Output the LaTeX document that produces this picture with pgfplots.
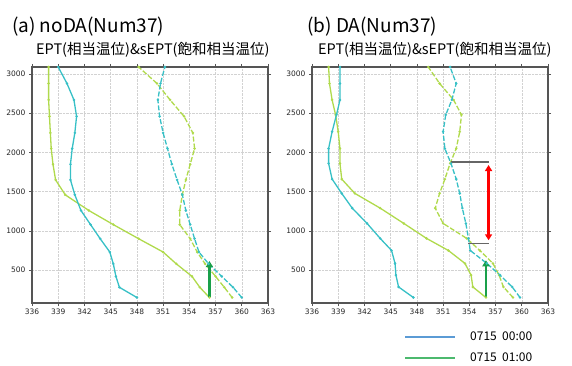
\documentclass[border=0pt]{standalone}
\usepackage{fontspec}
\usepackage{pgfplots}
\usepackage{pgfplotstable}
\pgfplotsset{compat=1.18}
\usetikzlibrary{arrows.meta}
\setmainfont{DejaVu Sans}
\newfontfamily\cjk{Noto Sans CJK JP}
\definecolor{cy}{RGB}{55,192,198}
\definecolor{yg}{RGB}{176,218,76}
\definecolor{dg}{RGB}{26,160,74}
\definecolor{frame}{RGB}{85,85,85}
\definecolor{legblue}{RGB}{91,155,213}
\definecolor{leggreen}{RGB}{76,185,110}

% columns: h, EPT 00:00, EPT 01:00, sEPT 00:00, sEPT 01:00
\pgfplotstableread{
h    ea     eb     sa     sb
150  348.0  356.3  360.0  358.9
280  346.0  355.2  359.0  358.0
420  345.6  354.3  357.7  357.0
580  345.3  352.5  356.2  355.8
730  344.9  351.0  355.1  354.9
900  343.8  348.2  354.6  354.1
1080 342.7  345.3  354.1  352.9
1260 341.6  342.5  353.6  352.9
1460 340.9  339.8  353.2  353.2
1650 340.4  338.7  352.6  353.6
1850 340.4  338.4  352.0  354.1
2050 340.6  338.2  351.5  354.6
2250 340.9  338.1  351.0  354.4
2460 341.1  338.0  350.6  353.4
2670 340.8  337.9  350.4  351.8
2880 340.0  337.9  350.7  350.3
3090 339.0  337.9  351.2  348.2
}\tblA

\pgfplotstableread{
h    ea     eb     sa     sb
150  347.6  355.9  359.8  359.0
285  345.9  354.4  358.9  357.9
436  345.6  354.2  357.5  357.4
585  345.5  353.5  356.0  356.7
750  345.1  351.6  354.1  355.2
904  343.8  349.1  353.9  353.7
1095 342.3  346.5  353.6  351.0
1290 340.6  343.8  353.2  350.1
1478 339.4  340.9  352.9  350.6
1660 338.3  339.4  352.5  351.2
1860 337.9  339.2  351.9  351.8
2050 337.9  339.2  351.2  352.5
2265 338.3  339.0  351.0  352.9
2480 338.8  338.7  351.3  353.1
2670 339.2  338.3  352.0  352.2
2880 339.2  338.0  352.5  350.6
3090 339.2  337.9  351.8  349.3
}\tblB

\pgfplotsset{
  prof/.style={
    scale only axis, width=236pt, height=236pt,
    xmin=336, xmax=363, ymin=80, ymax=3090,
    xtick={336,339,...,363}, ytick={500,1000,...,3000},
    grid=major, grid style={densely dotted, gray!35},
    axis line style={frame, line width=1.3pt},
    tick align=outside, major tick length=3pt,
    tick style={frame, line width=0.6pt},
    tick label style={font=\fontsize{7.5}{8}\selectfont, text=black!85},
    /pgf/number format/assume math mode=true,
    /pgf/number format/1000 sep={},
    xticklabel style={yshift=1pt},
    clip=true,
  },
  ept/.style={line width=1.3pt, mark=*, mark size=0.5pt},
  sept/.style={line width=1.3pt, dash pattern=on 5pt off 2pt, mark=*, mark size=0.5pt, mark options={solid}},
}

\begin{document}
\begin{tikzpicture}[x=1pt,y=1pt]
\path[use as bounding box] (0,0) rectangle (572,365);

% panel (a)
\begin{axis}[prof, at={(32pt,62pt)}, anchor=south west]
\addplot[ept, yg] table[x=eb, y=h] {\tblA};
\addplot[sept, yg] table[x=sb, y=h] {\tblA};
\addplot[ept, cy] table[x=ea, y=h] {\tblA};
\addplot[sept, cy] table[x=sa, y=h] {\tblA};
\addplot[dg, line width=2.6pt, -{Triangle[length=6pt,width=7pt]}] coordinates {(356.3,160) (356.3,615)};
\end{axis}

% panel (b)
\begin{axis}[prof, at={(312pt,62pt)}, anchor=south west]
\addplot[ept, yg] table[x=eb, y=h] {\tblB};
\addplot[sept, yg] table[x=sb, y=h] {\tblB};
\addplot[ept, cy] table[x=ea, y=h] {\tblB};
\addplot[sept, cy] table[x=sa, y=h] {\tblB};
\addplot[gray!80!black, line width=1.3pt] coordinates {(351.9,1880) (356.3,1880)};
\addplot[gray!80!black, line width=1.3pt] coordinates {(353.9,840) (356.3,840)};
\addplot[red, line width=2.6pt, {Triangle[length=6pt,width=7pt]}-{Triangle[length=6pt,width=7pt]}] coordinates {(356.2,1840) (356.2,880)};
\addplot[dg, line width=2.6pt, -{Triangle[length=6pt,width=7pt]}] coordinates {(355.9,160) (355.9,625)};
\end{axis}

% titles
\node[anchor=base west, inner sep=0pt, font=\cjk\fontsize{19}{19}\selectfont] at (12,332) {(a) noDA(Num37)};
\node[anchor=base west, inner sep=0pt, font=\cjk\fontsize{14.5}{15}\selectfont] at (36,311) {EPT(相当温位)\&sEPT(飽和相当温位)};
\node[anchor=base west, inner sep=0pt, font=\cjk\fontsize{19}{19}\selectfont] at (307,332) {(b) DA(Num37)};
\node[anchor=base west, inner sep=0pt, font=\cjk\fontsize{14.5}{15}\selectfont] at (318,311) {EPT(相当温位)\&sEPT(飽和相当温位)};

% legend
\draw[legblue, line width=1.6pt] (405,28) -- (455,28);
\draw[leggreen, line width=1.6pt] (405,7) -- (455,7);
\node[anchor=west, inner sep=0pt, font=\cjk\fontsize{12}{12}\selectfont] at (470,29) {0715\ \ 00:00};
\node[anchor=west, inner sep=0pt, font=\cjk\fontsize{12}{12}\selectfont] at (470,8) {0715\ \ 01:00};
\end{tikzpicture}
\end{document}
